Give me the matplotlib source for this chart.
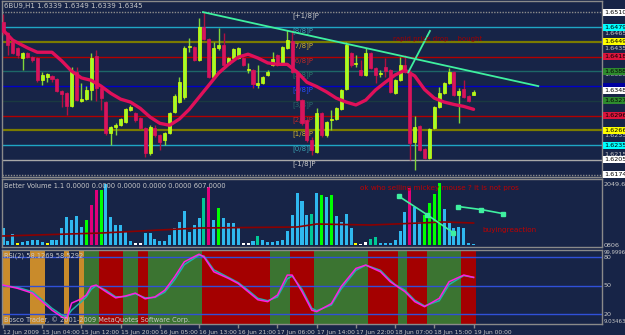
import matplotlib
matplotlib.use("Agg")
import matplotlib.pyplot as plt
from matplotlib.transforms import blended_transform_factory

# ---------------- data ----------------
title = "6BU9,H1 1.6339 1.6349 1.6339 1.6345"

# H1 candles, oldest first
opens = [1.6489, 1.6467, 1.6448, 1.6436, 1.6415, 1.6425, 1.6417, 1.6415, 1.6369, 1.6376,
         1.6378, 1.6371, 1.6347, 1.6342, 1.6316, 1.6386, 1.6326, 1.6330, 1.6349, 1.6419,
         1.6353, 1.6324, 1.6260, 1.6272, 1.6276, 1.6282, 1.6307, 1.6301, 1.6291, 1.6270,
         1.6218, 1.6270, 1.6256, 1.6245, 1.6260, 1.6303, 1.6324, 1.6334, 1.6438, 1.6438,
         1.6411, 1.6479, 1.6454, 1.6376, 1.6436, 1.6442, 1.6402, 1.6415, 1.6415, 1.6415,
         1.6390, 1.6390, 1.6359, 1.6363, 1.6380, 1.6400, 1.6421, 1.6405, 1.6436, 1.6450,
         1.6384, 1.6328, 1.6287, 1.6245, 1.6220, 1.6301, 1.6256, 1.6287, 1.6289, 1.6309,
         1.6351, 1.6425, 1.6402, 1.6390, 1.6380, 1.6425, 1.6394, 1.6382, 1.6396, 1.6390,
         1.6342, 1.6369, 1.6400, 1.6386, 1.6241, 1.6274, 1.6227, 1.6208, 1.6270, 1.6313,
         1.6342, 1.6363, 1.6386, 1.6338, 1.6351, 1.6336, 1.6339]
highs = [1.6506, 1.6469, 1.6450, 1.6438, 1.6427, 1.6427, 1.6419, 1.6417, 1.6386, 1.6384,
         1.6380, 1.6374, 1.6349, 1.6345, 1.6396, 1.6396, 1.6363, 1.6357, 1.6425, 1.6431,
         1.6355, 1.6326, 1.6274, 1.6280, 1.6291, 1.6311, 1.6318, 1.6303, 1.6293, 1.6272,
         1.6276, 1.6276, 1.6258, 1.6262, 1.6303, 1.6340, 1.6376, 1.6440, 1.6456, 1.6440,
         1.6498, 1.6510, 1.6456, 1.6448, 1.6477, 1.6467, 1.6417, 1.6436, 1.6438, 1.6417,
         1.6405, 1.6392, 1.6400, 1.6378, 1.6390, 1.6427, 1.6423, 1.6440, 1.6473, 1.6473,
         1.6386, 1.6330, 1.6289, 1.6251, 1.6311, 1.6303, 1.6284, 1.6307, 1.6313, 1.6351,
         1.6448, 1.6427, 1.6421, 1.6411, 1.6436, 1.6427, 1.6396, 1.6390, 1.6415, 1.6392,
         1.6371, 1.6417, 1.6421, 1.6390, 1.6295, 1.6276, 1.6229, 1.6270, 1.6315, 1.6355,
         1.6365, 1.6394, 1.6388, 1.6353, 1.6369, 1.6338, 1.6349]
lows = [1.6463, 1.6421, 1.6423, 1.6415, 1.6390, 1.6415, 1.6407, 1.6365, 1.6359, 1.6365,
        1.6365, 1.6345, 1.6313, 1.6297, 1.6313, 1.6326, 1.6324, 1.6328, 1.6328, 1.6326,
        1.6307, 1.6256, 1.6235, 1.6256, 1.6274, 1.6280, 1.6305, 1.6282, 1.6268, 1.6210,
        1.6214, 1.6251, 1.6224, 1.6235, 1.6258, 1.6301, 1.6322, 1.6330, 1.6427, 1.6409,
        1.6409, 1.6452, 1.6374, 1.6374, 1.6431, 1.6398, 1.6400, 1.6413, 1.6413, 1.6398,
        1.6384, 1.6353, 1.6353, 1.6361, 1.6378, 1.6398, 1.6398, 1.6402, 1.6434, 1.6384,
        1.6326, 1.6276, 1.6241, 1.6214, 1.6218, 1.6251, 1.6251, 1.6266, 1.6287, 1.6307,
        1.6349, 1.6396, 1.6396, 1.6378, 1.6378, 1.6392, 1.6363, 1.6376, 1.6376, 1.6342,
        1.6340, 1.6367, 1.6384, 1.6204, 1.6183, 1.6222, 1.6206, 1.6206, 1.6268, 1.6311,
        1.6340, 1.6361, 1.6336, 1.6280, 1.6332, 1.6324, 1.6339]
closes = [1.6469, 1.6442, 1.6425, 1.6421, 1.6425, 1.6417, 1.6411, 1.6369, 1.6380, 1.6382,
          1.6371, 1.6347, 1.6340, 1.6316, 1.6388, 1.6328, 1.6330, 1.6349, 1.6415, 1.6353,
          1.6332, 1.6260, 1.6272, 1.6276, 1.6289, 1.6309, 1.6313, 1.6287, 1.6270, 1.6218,
          1.6272, 1.6256, 1.6241, 1.6260, 1.6301, 1.6336, 1.6365, 1.6436, 1.6440, 1.6411,
          1.6479, 1.6454, 1.6376, 1.6436, 1.6442, 1.6400, 1.6415, 1.6434, 1.6436, 1.6400,
          1.6392, 1.6361, 1.6363, 1.6376, 1.6386, 1.6413, 1.6400, 1.6438, 1.6452, 1.6386,
          1.6328, 1.6280, 1.6245, 1.6224, 1.6301, 1.6256, 1.6282, 1.6289, 1.6311, 1.6349,
          1.6442, 1.6400, 1.6405, 1.6380, 1.6425, 1.6394, 1.6380, 1.6384, 1.6388, 1.6345,
          1.6369, 1.6400, 1.6386, 1.6239, 1.6272, 1.6224, 1.6208, 1.6268, 1.6313, 1.6342,
          1.6363, 1.6386, 1.6338, 1.6347, 1.6334, 1.6326, 1.6345]

# moving average (bar index, price)
ma_bar = [0, 2, 5, 7, 10, 12, 14, 16, 18, 20, 22, 24, 26, 28, 30, 32, 34, 36, 38, 40,
          42, 44, 46, 48, 50, 52, 54, 56, 58, 60, 62, 64, 66, 68, 70, 72, 74, 76, 78, 80,
          82, 84, 86, 88, 90, 92, 94, 96]
ma_price = [1.6473, 1.6452, 1.6436, 1.6427, 1.6427, 1.6409, 1.6388, 1.6374, 1.6369, 1.6357,
            1.6342, 1.6330, 1.6324, 1.6311, 1.6293, 1.6280, 1.6276, 1.6289, 1.6309, 1.6334,
            1.6359, 1.6384, 1.6402, 1.6417, 1.6423, 1.6415, 1.6405, 1.6402, 1.6402, 1.6386,
            1.6365, 1.6356, 1.6345, 1.6332, 1.6324, 1.6318, 1.6328, 1.6349, 1.6365, 1.6380,
            1.6390, 1.6378, 1.6350, 1.6332, 1.6324, 1.6319, 1.6315, 1.6309]

# Murrey math levels
murrey_levels = [1.6510, 1.6479, 1.6449, 1.6418, 1.6388, 1.6357, 1.6327, 1.6296,
                 1.6266, 1.6235, 1.6205, 1.6174]
murrey_names = ["[+1/8]P", "[8/8]P", "[7/8]P", "[6/8]P", "[5/8]P", "[4/8]P", "[3/8]P",
                "[2/8]P", "[1/8]P", "[0/8]P", "[-1/8]P", ""]

# price scale labels on the right: (price, text, box colour)
price_marks = [(1.6465, "1.6465", None), (1.6435, "1.6435", None), (1.6380, "1.6380", None),
               (1.6255, "1.6255", None), (1.6215, "1.6215", None),
               (1.6510, "1.6510", "#ffffff"), (1.6479, "1.6479", "#00ffff"),
               (1.6449, "1.6449", "#ffff00"), (1.6418, "1.6418", "#dc143c"),
               (1.6388, "1.6388", "#2e8b2e"), (1.6357, "", "#0000a0"),
               (1.6348, "1.6348", "#ffffff"), (1.6327, "1.6327", "#2e8b2e"),
               (1.6296, "1.6296", "#dc143c"), (1.6266, "1.6266", "#ffff00"),
               (1.6235, "1.6235", "#00ffff"), (1.6205, "1.6205", "#ffffff"),
               (1.6174, "1.6174", "#ffffff")]

# hand drawn trend lines (bar, price)
trend_x = [40.8, 109.2]
trend_y = [1.6510, 1.6357]
spike_x = [82.7, 87.1]
spike_y = [1.6386, 1.6471]

# Better Volume histogram
volume = [564, 133, 365, 66, 100, 133, 166, 166, 100, 66,
          166, 166, 564, 930, 830, 963, 598, 830, 1328, 1826,
          1826, 2025, 930, 664, 664, 432, 133, 66, 66, 398,
          398, 199, 133, 133, 332, 564, 764, 1129, 432, 664,
          896, 1560, 1926, 830, 1228, 896, 730, 730, 564, 66,
          66, 133, 299, 166, 100, 100, 133, 166, 465, 996,
          1726, 1461, 996, 1029, 1726, 1660, 1594, 1660, 963, 764,
          1029, 564, 66, 33, 100, 199, 266, 66, 66, 66,
          166, 465, 1096, 1892, 1262, 764, 996, 1394, 1693, 2049.6,
          1195, 730, 564, 598, 564, 66, 33]
vol_kind = ("bbbybbbbbybbbbbbbgrrgbbbbbbwwbbbbbbbbbbbbtrbgbbbbwwbt"
            "bbbbbbbbbbtbgbgbbbbywwttbbbbbbrbbggggbbbbbbb")
volma_bar = [0, 20, 40, 60, 64, 75, 90, 96]
volma = [299, 398, 564, 598, 697, 664, 764, 730]

# RSI panel
rsi_bar = [0, 3, 6, 8, 10, 12, 13, 14, 16, 17, 18, 19, 21, 23, 25, 27, 29, 31, 33, 35,
           37, 40, 41, 43, 46, 48, 50, 52, 54, 56, 58, 59, 61, 63, 64, 67, 69, 72, 74, 77,
           79, 80, 82, 84, 86, 89, 91, 94, 96]
rsi_main = [50.5, 47, 42, 33, 24, 17, 15.5, 31.5, 36, 40, 49, 50.5, 43.5, 37, 39, 42, 36, 38,
            45, 59, 75, 83, 80, 64.5, 57.5, 52, 43.5, 35, 33, 40, 61, 61, 43.5, 24, 22.5, 31,
            49, 68, 71.5, 64.5, 54, 50.5, 43.5, 33, 27.7, 36.5, 54, 61, 58.6]
rsi_signal = [50, 48, 43.5, 35, 26, 19, 17, 24, 33, 38, 46, 50, 45, 38, 38.5, 41.5, 37, 37.5,
              43, 56, 72, 82, 81, 66.5, 58.5, 53, 45, 36.5, 34, 38, 57, 60, 46, 26, 23.5, 29.5,
              46.5, 66, 71.5, 66, 55.5, 51, 45, 34.5, 28.5, 34, 51, 60.5, 58.5]
rsi_levels = [80, 50, 20]
band_start = [0, 6, 13, 16, 17, 20, 25, 28, 30, 41, 55, 59, 64, 75, 81, 83, 87, 94]
band_end = [1, 8, 13, 16, 19, 24, 27, 29, 40, 54, 58, 63, 74, 80, 82, 86, 93, 96]
band_kind = ["o", "o", "o", "o", "g", "r", "g", "r", "g", "r", "g", "r", "g", "r", "g", "r", "g", "r"]

tick_bars = [0, 8, 16, 24, 32, 40, 48, 56, 64, 72, 80, 88, 96]
tick_labels = ["12 Jun 2009", "15 Jun 04:00", "15 Jun 12:00", "15 Jun 20:00", "16 Jun 05:00",
               "16 Jun 13:00", "16 Jun 21:00", "17 Jun 06:00", "17 Jun 14:00", "17 Jun 22:00",
               "18 Jun 07:00", "18 Jun 15:00", "19 Jun 00:00"]

# ---------------- styling ----------------
BG = "#172447"
EDGE = "#8a8a8a"
TXT = "#c8c8c8"
line_cols = ["#8c8c8c", "#1fa6c4", "#7b7b00", "#b00000", "#1d6767", "#0000c8", "#1a3a40",
             "#b00000", "#7b7b00", "#1fa6c4", "#a8a8a8", "#8c8c8c"]
label_cols = ["#c8c8c8", "#3aa0b0", "#d0b030", "#c02828", "#2a7a6a", "#2a4cff", "#2a6a6a",
              "#c02828", "#d0b030", "#3aa0b0", "#c8c8c8", "#c8c8c8"]
vol_cols = {"b": "#2fb8ef", "g": "#00ff00", "r": "#e0007a", "t": "#00c896",
            "y": "#ffff00", "w": "#ffffff"}
band_cols = {"o": "#c98b2b", "g": "#3b7431", "r": "#a40000"}
W, H = 625.0, 335.0


def box(x0, y0, x1, y1):
    return [x0 / W, 1 - y1 / H, (x1 - x0) / W, (y1 - y0) / H]


fig = plt.figure(figsize=(6.25, 3.35), dpi=100, facecolor=BG)
ax = fig.add_axes(box(2, 1, 602, 177))
axv = fig.add_axes(box(2, 179, 602, 247), sharex=ax)
axr = fig.add_axes(box(2, 250, 602, 324), sharex=ax)

for a in (ax, axv, axr):
    a.set_facecolor(BG)
    for s in a.spines.values():
        s.set_color(EDGE)
        s.set_linewidth(1)
    a.tick_params(left=False, right=False, labelleft=False, bottom=False, labelbottom=False)
    a.set_yticks([])
ax.set_xlim(-0.2, 122.2)
ax.set_ylim(1.6169, 1.6533)

# murrey lines + labels
for lvl, name, lc, tc in zip(murrey_levels, murrey_names, line_cols, label_cols):
    dotted = lc == "#8c8c8c"
    ax.axhline(lvl, color=lc, lw=1.6 if lc == "#7b7b00" else 1,
               ls=(0, (1, 1)) if dotted else "-", zorder=1)
    ax.text(59, lvl - 0.0001, name, color=tc, fontsize=5, va="top", ha="left", zorder=2)

# candles
x = list(range(len(opens)))
bull = [c >= o for o, c in zip(opens, closes)]
wick_c = ["#7fd63a" if b else "#b01040" for b in bull]
body_c = ["#9cff2e" if b else "#d8145c" for b in bull]
edge_c = ["#e0ff00" if b else "#d8145c" for b in bull]
ax.vlines(x, lows, highs, colors=wick_c, lw=1, zorder=3)
ax.bar(x, [max(abs(c - o), 0.00006) for o, c in zip(opens, closes)],
       bottom=[min(o, c) for o, c in zip(opens, closes)], width=0.62,
       color=body_c, edgecolor=edge_c, lw=0.5, zorder=4)
ax.plot(ma_bar, ma_price, color="#e0105a", lw=2.4, solid_capstyle="round", zorder=5)

ax.plot(trend_x, trend_y, color="#3ff0a0", lw=1.3, zorder=6)
ax.plot(spike_x, spike_y, color="#3ff0a0", lw=1.3, zorder=6)
ax.text(79.6, 1.6455, "rapid price drop .. bought", color="#a00000", fontsize=5,
        va="center", ha="left", zorder=6)
fig.text(4 / W, 1 - 6 / H, title, color=TXT, fontsize=5, va="center", ha="left")

tr = blended_transform_factory(ax.transAxes, ax.transData)
for p, t, bg in price_marks:
    if bg is None:
        ax.text(1.003, p, t, transform=tr, fontsize=4.6, color=TXT, va="center",
                ha="left", clip_on=False)
    else:
        ax.text(1.003, p, t if t else "0.0000", transform=tr, fontsize=4.6,
                color="#000000" if t else bg, va="center", ha="left", clip_on=False,
                bbox=dict(boxstyle="square,pad=0.15", fc=bg, ec="none"))

# volume panel
axv.set_ylim(-66, 2191)
assert len(vol_kind) == len(volume)
axv.bar(x, volume, width=0.62, color=[vol_cols[k] for k in vol_kind], zorder=2)
axv.plot(volma_bar, volma, color="#8b0000", lw=1.2, zorder=3)
axv.plot([80.8, 86.5, 91.9], [1613, 1008, 403], color="#3ff0a0", lw=1.2,
         marker="s", ms=2.5, zorder=4)
axv.plot([92.9, 97.6, 102.0], [1277, 1176, 1042], color="#3ff0a0", lw=1.2,
         marker="s", ms=2.5, zorder=4)
axv.text(72.9, 1890, "ok who selling mickey mouse ? it is not pros", color="#c00000",
         fontsize=5.2, va="center", ha="left", zorder=5)
axv.text(97.8, 500, "buyingreaction", color="#c00000", fontsize=5.2, va="center",
         ha="left", zorder=5)
axv.text(0.004, 0.9, "Better Volume 1.1 0.0000 0.0000 0.0000 0.0000 0.0000 607.0000",
         transform=axv.transAxes, color=TXT, fontsize=4.8, va="center", ha="left")
trv = blended_transform_factory(axv.transAxes, axv.transData)
axv.text(1.003, 2020, "2049.6", transform=trv, color=TXT, fontsize=4.6, va="center",
         ha="left", clip_on=False)
axv.text(1.003, 0, "0806", transform=trv, color=TXT, fontsize=4.6, va="center",
         ha="left", clip_on=False)

# RSI panel
axr.set_ylim(9.5, 87.4)
for s, e, k in zip(band_start, band_end, band_kind):
    axr.axvspan(s - 0.5, e + 0.5, color=band_cols[k], lw=0, zorder=1)
for lv in rsi_levels:
    axr.axhline(lv, color="#3050d8", lw=1, zorder=2)
axr.plot(rsi_bar, rsi_signal, color="#20b2aa", lw=1.1, zorder=3)
axr.plot(rsi_bar, rsi_main, color="#ff20e0", lw=1.1, zorder=4)
axr.text(0.004, 0.92, "RSI(2) 58.1269 58.5292", transform=axr.transAxes, color=TXT,
         fontsize=4.8, va="center", ha="left", zorder=5)
axr.text(0.004, 0.06, "Bosco Trader, \u00a9 2001-2009 MetaQuotes Software Corp.",
         transform=axr.transAxes, color=TXT, fontsize=4.8, va="center", ha="left", zorder=5)
trr = blended_transform_factory(axr.transAxes, axr.transData)
for val, t, fs in [(85, "99.9996", 3.9), (80, "80", 4.6), (50, "50", 4.6), (20, "20", 4.6),
                   (12, "9.03463", 3.9)]:
    axr.text(1.003, val, t, transform=trr, color=TXT, fontsize=fs, va="center",
             ha="left", clip_on=False)

axr.set_xticks(tick_bars)
axr.set_xticklabels(tick_labels, ha="left", fontsize=4.3, color=TXT)
axr.tick_params(axis="x", bottom=True, labelbottom=True, length=3, width=1,
                color=EDGE, pad=1)

fig.savefig("out.png", dpi=100, facecolor=BG)
